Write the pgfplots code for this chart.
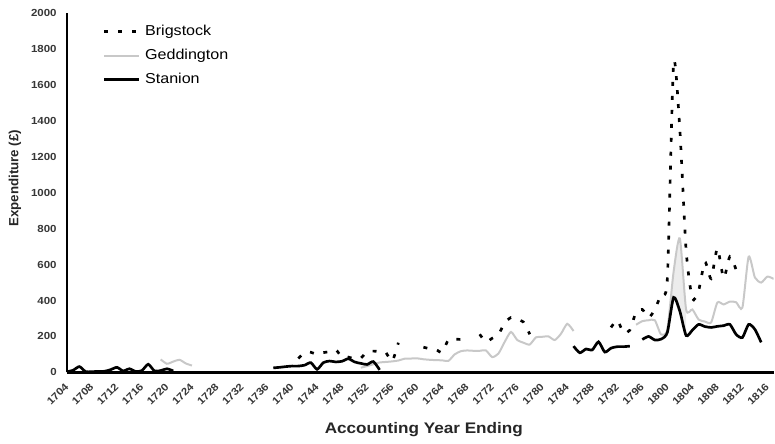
\documentclass[border=0pt]{standalone}
\usepackage{fontspec}
\setmainfont{Liberation Sans}[FakeStretch=1.12]
\newfontfamily\yfont{Liberation Sans}
\usepackage{pgfplots}
\pgfplotsset{compat=1.18}
\usepackage{pgfplotstable}
\definecolor{gedd}{RGB}{200,200,200}
\definecolor{fillg}{RGB}{236,236,236}
\definecolor{tickc}{RGB}{55,55,55}

\pgfplotstableread{
year val
1741 78
1742 110
1743 112
1744 100
1745 110
1746 115
1747 125
1748 85
1749 85
1750 75
1751 80
1752 115
1753 118
1754 117
1755 110
1756 62
1757 165
nan nan
1761 140
1762 132
1763 127
1764 112
1765 182
1766 185
1767 183
1768 183
nan nan
1770 212
1771 170
1772 190
1773 212
1774 275
1775 305
1776 295
1777 280
1778 212
nan nan
1791 250
1792 290
1793 220
1794 235
1795 335
1796 350
1797 305
1798 350
1799 435
1800 520
1801 1722
1802 1350
1803 680
1804 410
1805 455
1806 615
1807 522
1808 690
1809 525
1810 645
1811 570
}\brig

\pgfplotstableread{
year val
1719 72
1720 48
1721 60
1722 70
1723 50
1724 38
nan nan
1751 26
1752 35
1753 45
1754 55
1755 58
1756 61
1757 66
1758 76
1759 77
1760 78
1761 73
1762 70
1763 68
1764 67
1765 64
1766 100
1767 118
1768 122
1769 120
1770 120
1771 122
1772 85
1773 105
1774 170
1775 225
1776 180
1777 165
1778 155
1779 195
1780 198
1781 200
1782 180
1783 215
1784 270
1785 230
nan nan
1795 265
1796 285
1797 290
1798 290
1799 211
1800 240
1801 560
1802 745
1803 350
1804 350
1805 294
1806 283
1807 278
1808 389
1809 378
1810 394
1811 390
1812 361
1813 644
1814 528
1815 500
1816 533
1817 520
}\gedd

\pgfplotstableread{
year val
1704 3
1705 12
1706 32
1707 4
1708 4
1709 5
1710 6
1711 15
1712 28
1713 8
1714 20
1715 5
1716 10
1717 45
1718 8
1719 10
1720 20
1721 8
nan nan
1737 25
1738 28
1739 32
1740 35
1741 35
1742 40
1743 54
1744 17
1745 54
1746 63
1747 58
1748 62
1749 76
1750 58
1751 50
1752 44
1753 60
1754 14
nan nan
1785 146
1786 109
1787 130
1788 125
1789 170
1790 113
1791 135
1792 143
1793 143
1794 146
nan nan
1796 183
1797 200
1798 180
1799 185
1800 222
1801 417
1802 340
1803 205
1804 235
1805 267
1806 255
1807 250
1808 256
1809 260
1810 267
1811 211
1812 194
1813 267
1814 239
1815 167
}\stan

\begin{document}
\begin{tikzpicture}
\begin{axis}[
  scale only axis, width=531pt, height=270pt,
  xmin=1704, xmax=1817, ymin=0, ymax=2000,
  axis lines*=left,
  axis line style={line width=2pt, black},
  xtick={1704,1708,...,1816}, ytick={0,200,...,2000},
  major tick length=0pt,
  /pgf/number format/1000 sep={},
  /pgf/number format/assume math mode=true,
  xticklabel style={font=\bfseries\fontsize{7.7}{9}\selectfont, text=tickc, yshift=-9.5pt, rotate=45, anchor=east, inner sep=0pt},
  yticklabel style={font=\bfseries\fontsize{7.7}{9}\selectfont, text=tickc, anchor=east, inner sep=0pt, xshift=-7.5pt},
  xlabel={Accounting Year Ending},
  xlabel style={font=\bfseries\fontsize{11.5}{13}\selectfont, text=black!85, at={(axis description cs:0.505,-0.16)}, anchor=center},
  ylabel={\yfont Expenditure (£)},
  ylabel style={font=\bfseries\fontsize{10}{12}\selectfont, text=black!85, at={(axis description cs:-0.0734,0.54)}, anchor=center},
  unbounded coords=jump,
  legend style={at={(rel axis cs:0,1)}, anchor=north west, xshift=27pt, yshift=-9pt,
     draw=none, fill=none, inner sep=0pt, outer sep=0pt,
     font=\fontsize{10.8}{12}\selectfont, row sep=7.7pt, column sep=3.75pt,
     nodes={inner sep=0pt, text height=8pt, text depth=2.3pt}},
  legend cell align=left,
  legend image code/.code={\draw[#1] (0pt,0pt) -- (26pt,0pt);},
]
\addplot[fill=fillg, draw=none, forget plot] coordinates {(1800.3,300) (1801,560) (1802,745) (1803,350) (1803,205) (1802,340) (1801,417) (1800.3,240)} -- cycle;
\addplot[black, line width=2pt, dash pattern=on 3pt off 7.5pt, smooth, tension=0.4] table[x=year,y=val] {\brig};
\addplot[gedd, line width=1.5pt, smooth, tension=0.4] table[x=year,y=val] {\gedd};
\addplot[black, line width=2pt, smooth, tension=0.4] table[x=year,y=val] {\stan};
\legend{Brigstock,Geddington,Stanion}
\end{axis}
\path (current axis.south west) ++(-50.25pt,-53.25pt) rectangle ++(581.25pt,333pt);
\end{tikzpicture}
\end{document}
